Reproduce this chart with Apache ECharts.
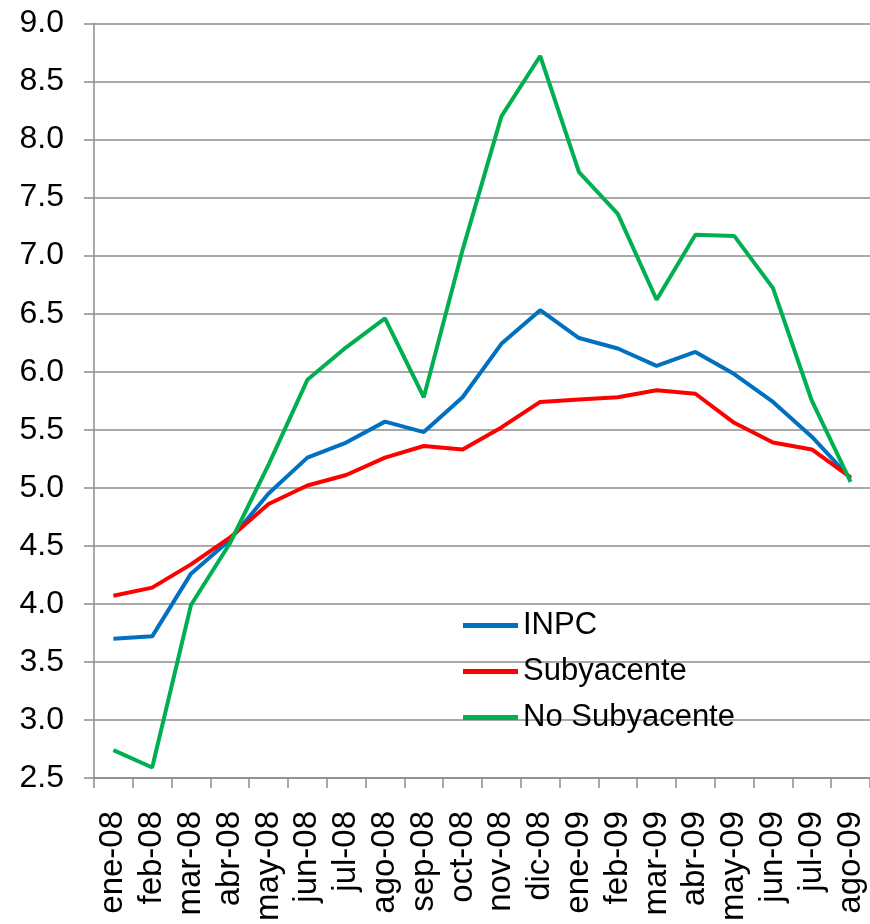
<!DOCTYPE html>
<html>
<head>
<meta charset="utf-8">
<script src="https://cdn.jsdelivr.net/npm/echarts@6/dist/echarts.min.js"></script>
<style>
  html, body { margin: 0; padding: 0; background: #fff; }
  #chart { width: 870px; height: 924px; }
</style>
</head>
<body>
<div id="chart"></div>
<script>
// Months
const months = [
    'ene-08', 'feb-08', 'mar-08', 'abr-08', 'may-08', 'jun-08', 'jul-08', 'ago-08', 'sep-08', 'oct-08',
    'nov-08', 'dic-08', 'ene-09', 'feb-09', 'mar-09', 'abr-09', 'may-09', 'jun-09', 'jul-09', 'ago-09'
];

// Series values
const inpc = [3.70, 3.72, 4.26, 4.55, 4.95, 5.26, 5.39, 5.57, 5.48, 5.78,
              6.24, 6.53, 6.29, 6.20, 6.05, 6.17, 5.98, 5.74, 5.44, 5.08];
const subyacente = [4.07, 4.14, 4.34, 4.57, 4.86, 5.02, 5.11, 5.26, 5.36, 5.33,
                    5.52, 5.74, 5.76, 5.78, 5.84, 5.81, 5.56, 5.39, 5.33, 5.09];
const noSubyacente = [2.74, 2.59, 3.99, 4.52, 5.20, 5.93, 6.21, 6.46, 5.78, 7.05,
                      8.20, 8.72, 7.72, 7.36, 6.62, 7.18, 7.17, 6.72, 5.75, 5.05];

const seriesNames = ['INPC', 'Subyacente', 'No Subyacente'];
const seriesColors = ['#0070C0', '#FF0000', '#00B050'];

const font = '"Liberation Sans", Arial, sans-serif';
const gridGray = '#8c8c8c';

const chart = echarts.init(document.getElementById('chart'));

const makeLine = (name, data, color) => ({
    name: name,
    type: 'line',
    data: data,
    symbol: 'none',
    lineStyle: { color: color, width: 4 },
    itemStyle: { color: color },
    animation: false
});

chart.setOption({
    animation: false,
    grid: { left: 94, right: 0, top: 23.5, bottom: 144 },
    legend: {
        orient: 'vertical',
        left: 463,
        top: 610,
        padding: 0,
        itemWidth: 55,
        itemHeight: 5,
        itemGap: 15,
        icon: 'rect',
        textStyle: { fontFamily: font, fontSize: 31, color: '#000' },
        data: seriesNames
    },
    xAxis: {
        type: 'category',
        data: months,
        boundaryGap: true,
        axisLine: { lineStyle: { color: gridGray, width: 1.5 } },
        axisTick: { show: true, length: 10, lineStyle: { color: gridGray, width: 1.5 } },
        axisLabel: {
            rotate: 90,
            interval: 0,
            margin: 33,
            fontFamily: font,
            fontSize: 33,
            color: '#000'
        }
    },
    yAxis: {
        type: 'value',
        min: 2.5,
        max: 9.0,
        interval: 0.5,
        axisLine: { show: true, lineStyle: { color: gridGray, width: 1.5 } },
        axisTick: { show: true, length: 10, lineStyle: { color: gridGray, width: 1.5 } },
        splitLine: { show: true, lineStyle: { color: gridGray, width: 1.5 } },
        axisLabel: {
            margin: 30,
            fontFamily: font,
            fontSize: 32,
            color: '#000',
            formatter: v => v.toFixed(1)
        }
    },
    series: [
        makeLine(seriesNames[0], inpc, seriesColors[0]),
        makeLine(seriesNames[1], subyacente, seriesColors[1]),
        makeLine(seriesNames[2], noSubyacente, seriesColors[2])
    ]
});
</script>
</body>
</html>
